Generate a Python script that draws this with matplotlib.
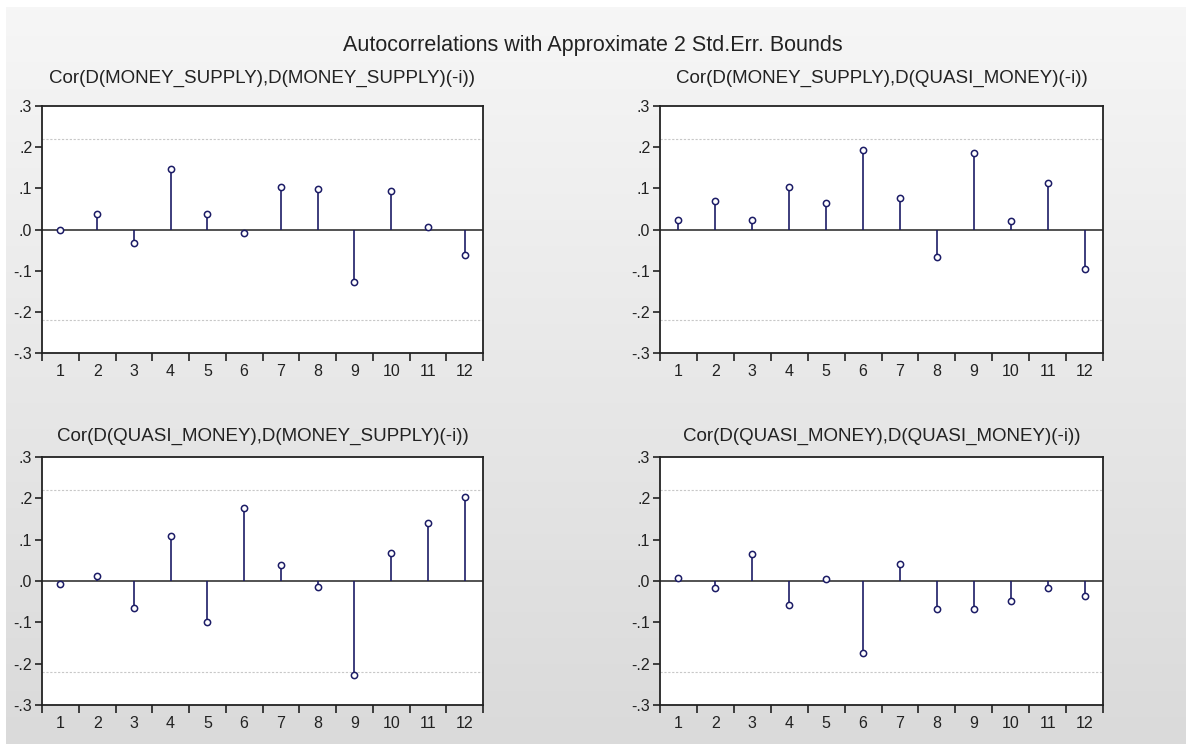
import numpy as np
import matplotlib
matplotlib.use("Agg")
import matplotlib.pyplot as plt

plt.rcParams['font.family'] = ['Liberation Sans', 'DejaVu Sans']

lags = list(range(1, 13))
bound = 0.22

# cross-correlations
ms_ms = [-0.001, 0.037, -0.033, 0.148, 0.037, -0.009, 0.104, 0.098, -0.127, 0.094, 0.005, -0.062]
ms_qm = [0.023, 0.069, 0.023, 0.104, 0.064, 0.193, 0.077, -0.068, 0.187, 0.021, 0.112, -0.097]
qm_ms = [-0.008, 0.011, -0.065, 0.109, -0.098, 0.176, 0.038, -0.014, -0.228, 0.068, 0.141, 0.203]
qm_qm = [0.007, -0.016, 0.065, -0.058, 0.005, -0.174, 0.041, -0.068, -0.068, -0.049, -0.016, -0.036]

titles = ["Cor(D(MONEY_SUPPLY),D(MONEY_SUPPLY)(-i))",
          "Cor(D(MONEY_SUPPLY),D(QUASI_MONEY)(-i))",
          "Cor(D(QUASI_MONEY),D(MONEY_SUPPLY)(-i))",
          "Cor(D(QUASI_MONEY),D(QUASI_MONEY)(-i))"]
series = [ms_ms, ms_qm, qm_ms, qm_qm]

yticks = [0.3, 0.2, 0.1, 0.0, -0.1, -0.2, -0.3]
ylabels = [".3", ".2", ".1", ".0", "-.1", "-.2", "-.3"]

W, H = 1186, 744
fig = plt.figure(figsize=(W / 100, H / 100), dpi=100)
fig.patch.set_facecolor("white")

# grey gradient backdrop
bg = fig.add_axes([6 / W, 0, 1 - 6 / W, 1 - 7 / H])
grad = np.linspace(0.965, 0.855, 256).reshape(-1, 1)
bg.imshow(np.dstack([grad, grad, grad]), aspect="auto", extent=[0, 1, 0, 1])
bg.axis("off")

navy = "#1c1c66"
ink = "#222222"

# pixel boxes: left, top, right, bottom, title y
boxes = [(42, 106, 483, 353, 78), (660, 106, 1103, 353, 78),
         (42, 457, 483, 705, 436), (660, 457, 1103, 705, 436)]

for box, vals, ttl in zip(boxes, series, titles):
    l, t, r, b, ty = box
    ax = fig.add_axes([l / W, 1 - b / H, (r - l) / W, (b - t) / H])
    ax.set_facecolor("white")
    ax.axhline(bound, color="#c8c8c8", lw=0.8, ls=(0, (2, 1.5)))
    ax.axhline(-bound, color="#c8c8c8", lw=0.8, ls=(0, (2, 1.5)))
    ax.axhline(0, color="#444444", lw=1.3)
    ax.vlines(lags, 0, vals, color=navy, lw=1.2)
    ax.plot(lags, vals, "o", ms=4.5, mfc="white", mec=navy, mew=1.1)
    ax.set_xlim(0.5, 12.5)
    ax.set_ylim(-0.3, 0.3)
    ax.set_yticks(yticks)
    ax.set_yticklabels(ylabels, fontsize=11.5, color=ink)
    ax.set_xticks(np.arange(0.5, 13, 1), minor=True)
    ax.set_xticks(lags)
    ax.set_xticklabels([str(i) for i in lags], fontsize=11.5, color=ink)
    ax.tick_params(axis="x", which="major", length=0, pad=8)
    ax.tick_params(axis="x", which="minor", length=6, width=1.2, color=ink)
    ax.tick_params(axis="y", length=5, width=1.2, color=ink, pad=2)
    for s in ax.spines.values():
        s.set_color(ink)
        s.set_linewidth(1.3)
    fig.text((l + r) / 2 / W, 1 - ty / H, ttl, ha="center", va="center",
             fontsize=13.5, color=ink)

fig.text(0.5, 1 - 46 / H, "Autocorrelations with Approximate 2 Std.Err. Bounds",
         ha="center", va="center", fontsize=15.5, color=ink)

fig.savefig("out.png", dpi=100)
